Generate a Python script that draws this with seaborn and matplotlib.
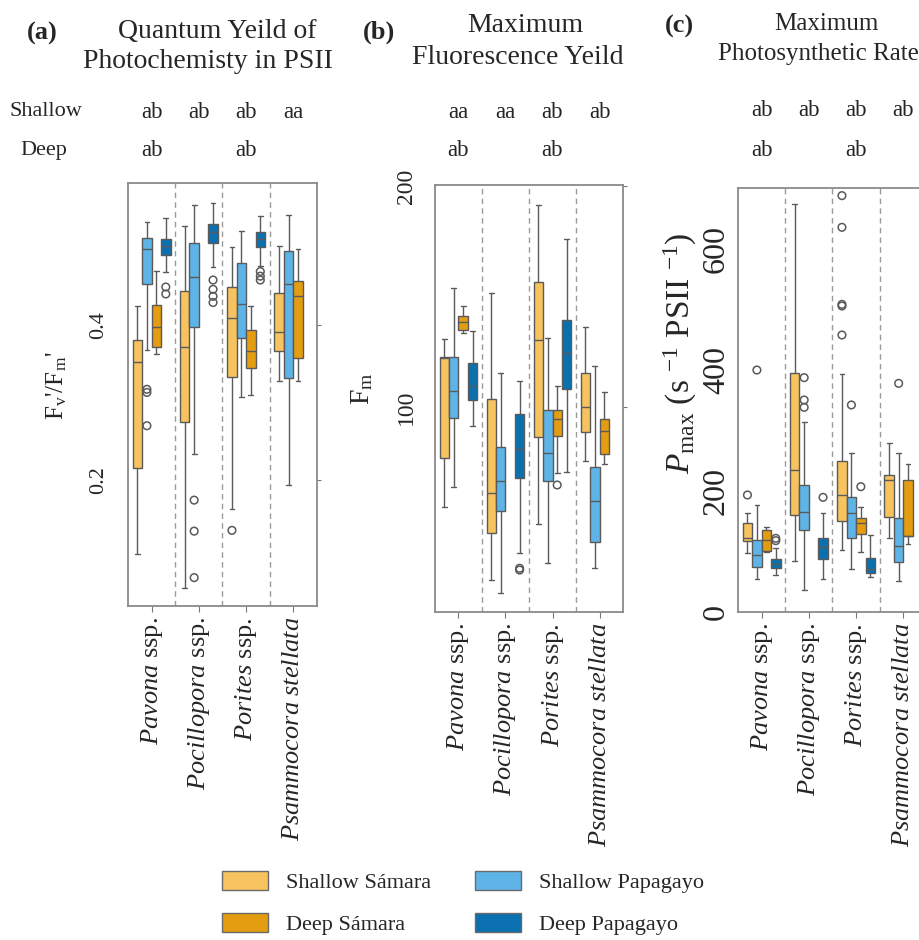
import matplotlib
matplotlib.use("Agg")
import matplotlib.pyplot as plt
import matplotlib.transforms as mtrans
from matplotlib.patches import Patch
import pandas as pd
import seaborn as sns


# Data
species = ["Pavona", "Pocillopora", "Porites", "Psammocora"]
species_labels = [r"$\mathit{Pavona}$ ssp.", r"$\mathit{Pocillopora}$ ssp.",
                  r"$\mathit{Porites}$ ssp.", r"$\mathit{Psammocora\ stellata}$"]
groups = ["Shallow Sámara", "Shallow Papagayo", "Deep Sámara", "Deep Papagayo"]
group_colors = ["#F6C35E", "#5EB4E7", "#E49D10", "#0B70AF"]

# which boxes exist (Pocillopora has no deep Sámara, Psammocora no deep Papagayo)
box_species = ["Pavona"] * 4 + ["Pocillopora"] * 3 + ["Porites"] * 4 + ["Psammocora"] * 3
box_group = ["Shallow Sámara", "Shallow Papagayo", "Deep Sámara", "Deep Papagayo",
             "Shallow Sámara", "Shallow Papagayo", "Deep Papagayo",
             "Shallow Sámara", "Shallow Papagayo", "Deep Sámara", "Deep Papagayo",
             "Shallow Sámara", "Shallow Papagayo", "Deep Sámara"]

# (low whisker, Q1, median, Q3, high whisker) for each box above
fvfm_stats = [
    (0.105, 0.216, 0.352, 0.381, 0.424), (0.368, 0.453, 0.498, 0.512, 0.533),
    (0.363, 0.371, 0.397, 0.426, 0.470), (0.469, 0.490, 0.502, 0.511, 0.538),
    (0.060, 0.275, 0.372, 0.444, 0.528), (0.234, 0.397, 0.462, 0.506, 0.555),
    (0.475, 0.506, 0.520, 0.530, 0.558),
    (0.163, 0.333, 0.409, 0.449, 0.500), (0.307, 0.383, 0.427, 0.480, 0.521),
    (0.310, 0.344, 0.367, 0.393, 0.424), (0.476, 0.500, 0.511, 0.520, 0.540),
    (0.328, 0.366, 0.391, 0.441, 0.502), (0.194, 0.331, 0.453, 0.495, 0.542),
    (0.328, 0.358, 0.437, 0.457, 0.498),
]
fvfm_outliers = [
    ("Pavona", "Shallow Papagayo", 0.317), ("Pavona", "Shallow Papagayo", 0.313),
    ("Pavona", "Shallow Papagayo", 0.270), ("Pavona", "Deep Papagayo", 0.449),
    ("Pavona", "Deep Papagayo", 0.440),
    ("Pocillopora", "Shallow Papagayo", 0.174), ("Pocillopora", "Shallow Papagayo", 0.134),
    ("Pocillopora", "Shallow Papagayo", 0.074), ("Pocillopora", "Deep Papagayo", 0.458),
    ("Pocillopora", "Deep Papagayo", 0.446), ("Pocillopora", "Deep Papagayo", 0.437),
    ("Pocillopora", "Deep Papagayo", 0.429),
    ("Porites", "Shallow Sámara", 0.135), ("Porites", "Deep Papagayo", 0.469),
    ("Porites", "Deep Papagayo", 0.463), ("Porites", "Deep Papagayo", 0.458),
]

fm_stats = [
    (54.6, 76.8, 122.0, 122.8, 130.8), (63.7, 94.9, 107.2, 122.5, 153.7),
    (133.3, 134.8, 138.6, 141.2, 145.7), (91.4, 103.2, 109.6, 120.0, 134.5),
    (21.7, 42.8, 61.2, 103.6, 151.4), (15.7, 53.1, 66.5, 82.0, 115.5),
    (33.8, 67.7, 80.9, 96.7, 111.9),
    (47.1, 86.3, 130.3, 156.4, 191.4), (29.5, 66.5, 79.3, 98.6, 131.4),
    (70.3, 86.9, 94.6, 98.6, 109.5), (70.5, 108.1, 124.6, 139.4, 176.0),
    (75.6, 88.5, 99.9, 115.5, 136.3), (27.0, 39.1, 57.5, 73.0, 118.7),
    (74.2, 78.6, 89.3, 94.6, 106.6),
]
fm_outliers = [
    ("Pocillopora", "Deep Papagayo", 27.0), ("Pocillopora", "Deep Papagayo", 26.2),
    ("Porites", "Deep Sámara", 64.7),
]

pmax_stats = [
    (98.0, 117.2, 122.7, 146.4, 162.9), (53.9, 74.8, 94.1, 118.9, 176.7),
    (99.6, 101.3, 118.9, 135.4, 139.8), (61.1, 73.2, 79.2, 86.9, 105.1),
    (84.8, 160.1, 234.4, 395.1, 673.0), (36.3, 135.9, 165.1, 209.1, 313.1),
    (54.5, 88.1, 106.8, 122.2, 162.9),
    (102.4, 150.2, 192.6, 249.9, 392.9), (70.4, 122.7, 164.0, 190.4, 263.1),
    (98.5, 128.2, 147.5, 155.7, 173.9), (57.2, 63.8, 71.0, 88.6, 127.1),
    (122.2, 157.4, 217.9, 226.2, 278.4), (51.7, 83.1, 109.0, 155.7, 261.9),
    (112.3, 126.0, 126.0, 217.9, 244.3),
]
pmax_outliers = [
    ("Pavona", "Shallow Sámara", 193.2), ("Pavona", "Shallow Papagayo", 399.5),
    ("Pavona", "Deep Papagayo", 121.6), ("Pavona", "Deep Papagayo", 117.8),
    ("Pocillopora", "Shallow Papagayo", 386.9), ("Pocillopora", "Shallow Papagayo", 350.0),
    ("Pocillopora", "Shallow Papagayo", 337.9), ("Pocillopora", "Deep Papagayo", 189.3),
    ("Porites", "Shallow Sámara", 687.4), ("Porites", "Shallow Sámara", 635.1),
    ("Porites", "Shallow Sámara", 507.9), ("Porites", "Shallow Sámara", 505.2),
    ("Porites", "Shallow Sámara", 457.3), ("Porites", "Shallow Papagayo", 341.8),
    ("Porites", "Deep Sámara", 206.9), ("Psammocora", "Shallow Papagayo", 377.5),
]

shallow_letters_a = ["ab", "ab", "ab", "aa"]
shallow_letters_b = ["aa", "aa", "ab", "ab"]
shallow_letters_c = ["ab", "ab", "ab", "ab"]
deep_letters = ["ab", "", "ab", ""]


sns.set_style("ticks")
plt.rcParams["font.family"] = ["Liberation Serif", "DejaVu Serif"]
plt.rcParams["mathtext.fontset"] = "custom"
plt.rcParams["mathtext.rm"] = "Liberation Serif"
plt.rcParams["mathtext.it"] = "Liberation Serif:italic"
plt.rcParams["mathtext.bf"] = "Liberation Serif:bold"

W, H = 920, 940
fig = plt.figure(figsize=(W / 100, H / 100), dpi=100)


def px_axes(left, top, right, bottom):
    return fig.add_axes([left / W, 1 - bottom / H, (right - left) / W, (bottom - top) / H])


def box_frame(stats):
    rows = []
    for sp, grp, five in zip(box_species, box_group, stats):
        for v in five:
            rows.append((sp, grp, v))
    return pd.DataFrame(rows, columns=["species", "group", "value"])


def draw_panel(ax, stats, outliers, ylim, yticks, yticklabels, tick_size, tick_pad):
    palette = dict(zip(groups, group_colors))
    sns.boxplot(data=box_frame(stats), x="species", y="value", hue="group",
                order=species, hue_order=groups, palette=palette, saturation=1,
                width=0.8, gap=0, whis=(0, 100), showfliers=False,
                linecolor="#5a5a5a", linewidth=1, legend=False, ax=ax)
    n_before = len(ax.collections)
    out = pd.DataFrame(outliers, columns=["species", "group", "value"])
    sns.stripplot(data=out, x="species", y="value", hue="group", order=species,
                  hue_order=groups, palette=palette, dodge=True, jitter=False,
                  size=5.5, legend=False, ax=ax)
    for coll in ax.collections[n_before:]:
        coll.set_facecolor("none")
        coll.set_edgecolor("#5a5a5a")
        coll.set_linewidth(1.1)

    for xsep in [0.5, 1.5, 2.5]:
        ax.axvline(xsep, color="#9a9a9a", ls=(0, (4, 3)), lw=1)

    ax.set_xlim(-0.5, 3.5)
    ax.set_ylim(*ylim)
    ax.set_xticks(range(len(species)))
    ax.set_xticklabels(species_labels, rotation=90, fontsize=19)
    ax.set_yticks(yticks)
    ax.set_yticklabels(yticklabels, fontsize=tick_size)
    for lbl in ax.get_yticklabels():
        lbl.set_rotation(90)
        lbl.set_va("center")
        lbl.set_ha("right")
    ax.tick_params(axis="x", length=4, color="#777777", pad=4)
    ax.tick_params(axis="y", left=False, right=True, length=3, color="#777777",
                   pad=tick_pad)
    ax.set_xlabel("")
    for spine in ax.spines.values():
        spine.set_color("#8a8a8a")
        spine.set_linewidth(1.3)


def letters(ax, shallow, y_shallow, y_deep):
    trans = mtrans.blended_transform_factory(ax.transData, fig.transFigure)
    for i, txt in enumerate(shallow):
        ax.text(i, 1 - y_shallow / H, txt, transform=trans, ha="center",
                va="center", fontsize=16.5)
    for i, txt in enumerate(deep_letters):
        if txt:
            ax.text(i, 1 - y_deep / H, txt, transform=trans, ha="center",
                    va="center", fontsize=16.5)


# (a) Fv'/Fm'
ax_a = px_axes(128, 183, 317, 606)
draw_panel(ax_a, fvfm_stats, fvfm_outliers, (0.0374, 0.5832), [0.2, 0.4],
           ["0.2", "0.4"], 16, 11)
ax_a.set_ylabel(r"F$_\mathrm{v}$'/F$_\mathrm{m}$'", fontsize=18)
ax_a.yaxis.set_label_coords(-0.376, 0.52)
ax_a.yaxis.label.set_va("center")

# (b) Fm
ax_b = px_axes(435, 185, 623, 612)
draw_panel(ax_b, fm_stats, fm_outliers, (7.2, 200.5), [100, 200],
           ["100", "200"], 17, 10)
ax_b.set_ylabel(r"F$_\mathrm{m}$", fontsize=20)
ax_b.yaxis.set_label_coords(-0.388, 0.522)
ax_b.yaxis.label.set_va("center")

# (c) Pmax
ax_c = px_axes(738, 188, 927, 612)
draw_panel(ax_c, pmax_stats, pmax_outliers, (0, 700), [0, 200, 400, 600],
           ["0", "200", "400", "600"], 23, 2)
ax_c.set_ylabel(r"$P_\mathrm{max}$ (s $^{-1}$ PSII $^{-1}$)", fontsize=24)
ax_c.yaxis.set_label_coords(-0.307, 0.611)
ax_c.yaxis.label.set_va("center")

letters(ax_a, shallow_letters_a, 112, 150)
letters(ax_b, shallow_letters_b, 112, 150)
letters(ax_c, shallow_letters_c, 110, 150)

fig.text(10 / W, 1 - 112 / H, "Shallow", ha="left", va="center", fontsize=16)
fig.text(20 / W, 1 - 150 / H, "Deep", ha="left", va="center", fontsize=16)

# panel titles
fig.text(42 / W, 1 - 33 / H, "(a)", ha="center", va="center", fontsize=19, weight="bold")
fig.text(217 / W, 1 - 31 / H, "Quantum Yeild of", ha="center", va="center", fontsize=20)
fig.text(208 / W, 1 - 62 / H, "Photochemisty in PSII", ha="center", va="center", fontsize=20)
fig.text(379 / W, 1 - 32 / H, "(b)", ha="center", va="center", fontsize=19, weight="bold")
fig.text(525 / W, 1 - 25 / H, "Maximum", ha="center", va="center", fontsize=20)
fig.text(518 / W, 1 - 57 / H, "Fluorescence Yeild", ha="center", va="center", fontsize=20)
fig.text(679 / W, 1 - 26 / H, "(c)", ha="center", va="center", fontsize=19, weight="bold")
fig.text(826 / W, 1 - 24 / H, "Maximum", ha="center", va="center", fontsize=18)
fig.text(818 / W, 1 - 54 / H, "Photosynthetic Rate", ha="center", va="center", fontsize=18)

# legend: column 1 Sámara, column 2 Papagayo
legend_order = ["Shallow Sámara", "Deep Sámara", "Shallow Papagayo", "Deep Papagayo"]
handles = [Patch(facecolor=dict(zip(groups, group_colors))[g], edgecolor="#6a6a6a",
                 linewidth=1, label=g) for g in legend_order]
fig.legend(handles=handles, ncol=2, loc="center", bbox_to_anchor=(463 / W, 1 - 903 / H),
           frameon=False, fontsize=16, handlelength=2.05, handleheight=0.95,
           handletextpad=0.8, columnspacing=2.0, labelspacing=0.9)

fig.savefig("out.png", dpi=100)
